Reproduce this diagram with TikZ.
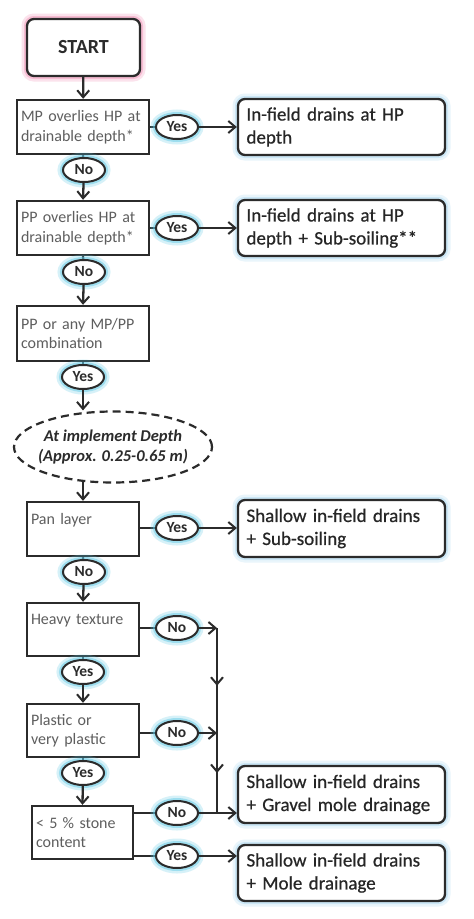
\documentclass[tikz,border=0pt]{standalone}
\usepackage{fontspec}
\setmainfont{Carlito}
\newfontfamily\resfont[FakeBold=0.6]{Carlito}
\usetikzlibrary{arrows.meta,decorations.markings,calc,shapes.geometric}
\definecolor{ln}{HTML}{2B2B2B}
\definecolor{qtext}{HTML}{5E5E5E}
\definecolor{glowc}{HTML}{5CC8E6}
\definecolor{glowb}{HTML}{A9D8F2}
\definecolor{glowp}{HTML}{F28FB4}
\begin{document}
\begin{tikzpicture}[x=1pt,y=-1pt,
  tip/.style={-{Straight Barb[length=7pt,width=12pt,line width=2pt]}},
  conn/.style={draw=ln,line width=2.3pt},
  glow/.style={preaction={draw=#1,line width=11pt,opacity=0.25},
               preaction={draw=#1,line width=6pt,opacity=0.45}},
  question/.style={draw=ln,line width=2.4pt,fill=white,align=left,inner xsep=4pt,
    text=qtext,font=\fontsize{16}{19.5}\selectfont,text width=#1,minimum height=54pt},
  result/.style={draw=ln,line width=2.3pt,rounded corners=7pt,fill=white,align=left,
    text width=190pt,inner xsep=8.5pt,minimum height=56pt,
    font=\resfont\fontsize{19}{23}\selectfont,text=black!85,glow=glowb},
  ans/.style={ellipse,draw=ln,line width=2pt,fill=white,minimum width=42pt,
    minimum height=24pt,inner sep=0pt,font=\bfseries\fontsize{15.5}{16}\selectfont,
    text=ln,glow=glowc},
  midtip/.style={postaction={decorate},decoration={markings,
    mark=at position #1 with {\arrow{Straight Barb[length=7pt,width=12pt,line width=2pt]}}}}
]
\fill[white] (0,0) rectangle (474,919);
\useasboundingbox (0,0) rectangle (474,919);

% start
\node[draw=ln,line width=2.3pt,rounded corners=7pt,fill=white,minimum width=113pt,
  minimum height=57pt,font=\bfseries\fontsize{20}{22}\selectfont,text=ln,glow=glowp]
  (start) at (83.5,47.5) {START};

% questions
\node[question=124pt] (q1) at (83,127) {MP overlies HP at\\drainable depth*};
\node[question=124pt] (q2) at (83,228) {PP overlies HP at\\drainable depth*};
\node[question=124pt,minimum height=55pt] (q3) at (83,333.5) {PP or any MP/PP\\combination};
\node[ellipse,draw=ln,line width=2.2pt,dash pattern=on 8pt off 5pt,fill=white,
  minimum width=198pt,minimum height=71pt,inner sep=0pt] (ell) at (113,447) {};
\node[align=center,text=ln,inner sep=0pt,
  font=\bfseries\itshape\fontsize{16.5}{20}\selectfont] (elltext) at (ell.center)
  {At implement Depth\\(Approx. 0.25-0.65 m)};
\node[question=104pt] (q4) at (83,529) {Pan layer\\\mbox{}};
\node[question=104pt,minimum height=53pt] (q5) at (83,629.5) {Heavy texture\\\mbox{}};
\node[question=104pt,minimum height=53pt] (q6) at (83,730.5) {Plastic or\\very plastic};
\node[question=93pt,minimum height=53pt] (q7) at (82.5,832.5) {< 5 \% stone\\content};

% results
\node[result] (r1) at (341.5,127) {In-field drains at HP\\depth};
\node[result] (r2) at (341.5,228) {In-field drains at HP\\depth + Sub-soiling**};
\node[result,minimum height=57pt] (r3) at (341.5,528.5) {Shallow in-field drains\\+ Sub-soiling};
\node[result,minimum height=57pt] (r4) at (341.5,794.5) {Shallow in-field drains\\+ Gravel mole drainage};
\node[result] (r5) at (341.5,873) {Shallow in-field drains\\+ Mole drainage};

% junction coordinates
\coordinate (j1) at (217,628);
\coordinate (j2) at (217,733);
\coordinate (j3) at (217,813);

% oval positions
\path (177,127) coordinate (y1p) (84,170) coordinate (n1p)
      (177,228) coordinate (y2p) (84,272) coordinate (n2p)
      (83,377) coordinate (y3p)
      (177,528) coordinate (y4p) (84,572) coordinate (n3p)
      (177,628) coordinate (n4p) (83,672) coordinate (y5p)
      (177,733) coordinate (n5p) (83,773) coordinate (y6p)
      (177,813) coordinate (n6p) (177,856) coordinate (y7p);

% connector lines under ovals
\draw[conn,tip] (start) -- (q1);
\draw[conn] (q1.east) -- (y1p);
\draw[conn] (q1.south) -- (n1p);
\draw[conn] (q2.east) -- (y2p);
\draw[conn] (q2.south) -- (n2p);
\draw[conn] (q3.south) -- (y3p);
\draw[conn] (q4.east |- y4p) -- (y4p);
\draw[conn] (q4.south) -- (n3p);
\draw[conn] (q5.east |- n4p) -- (n4p);
\draw[conn] (q5.south) -- (y5p);
\draw[conn] (q6.east |- n5p) -- (n5p);
\draw[conn] (q6.south) -- (y6p);
\draw[conn] (q7.east |- n6p) -- (n6p);
\draw[conn] (q7.east |- y7p) -- (y7p);
\draw[conn,midtip=0.55] (j1) -- (j2);
\draw[conn,midtip=0.5] (j2) -- (j3);

% ovals
\node[ans] (y1) at (y1p) {Yes};
\node[ans] (n1) at (n1p) {No};
\node[ans] (y2) at (y2p) {Yes};
\node[ans] (n2) at (n2p) {No};
\node[ans] (y3) at (y3p) {Yes};
\node[ans] (y4) at (y4p) {Yes};
\node[ans] (n3) at (n3p) {No};
\node[ans] (n4) at (n4p) {No};
\node[ans] (y5) at (y5p) {Yes};
\node[ans] (n5) at (n5p) {No};
\node[ans] (y6) at (y6p) {Yes};
\node[ans] (n6) at (n6p) {No};
\node[ans] (y7) at (y7p) {Yes};

% arrows out of ovals
\draw[conn,tip] (y1) -- (r1.west);
\draw[conn,tip] (n1) -- (q2.north);
\draw[conn,tip] (y2) -- (r2.west);
\draw[conn,tip] (n2) -- (q3.north);
\draw[conn,tip] (y3) -- (y3.south |- ell.north);
\draw[conn,tip] ($(q4.north |- ell.south)+(0,-2)$) -- (q4.north);
\draw[conn,tip] (y4) -- (r3.west |- y4);
\draw[conn,tip] (n3) -- (q5.north);
\draw[conn,tip] (n4) -- (j1);
\draw[conn,tip] (y5) -- (q6.north);
\draw[conn,tip] (n5) -- (j2);
\draw[conn,tip] (y6) -- (q7.north);
\draw[conn,tip] (n6) -- (r4.west |- n6);
\draw[conn,tip] (y7) -- (r5.west |- y7);
\end{tikzpicture}
\end{document}
